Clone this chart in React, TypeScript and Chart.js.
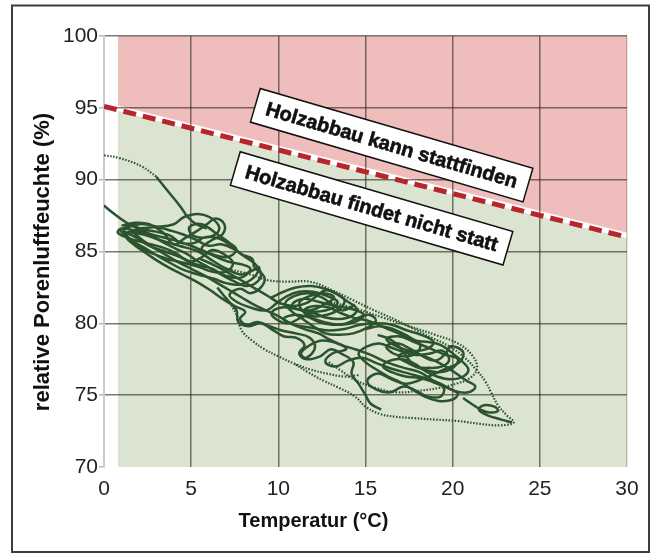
import React, { useEffect, useRef } from "react";
import { Chart, registerables } from "chart.js";
Chart.register(...registerables);

const X_MIN = 0, X_MAX = 30, X_STEP = 5;
const Y_MIN = 70, Y_MAX = 100, Y_STEP = 5;
const FILL_START_X = 0.8;
const thresholdX = [0, 30];
const thresholdY = [95.1, 86.0];
const LABEL_TEXTS = ["Holzabbau kann stattfinden", "Holzabbau findet nicht statt"];
const LABEL_X = [16.5, 15.35];
const LABEL_Y = [92.4, 88.0];
const X_TITLE = "Temperatur (°C)";
const Y_TITLE = "relative Porenluftfeuchte (%)";

type P = [number, number];

const dottedStart: P[] = [[0, 91.7], [0.9, 91.5], [2.2, 90.9], [3.0, 90.2]];
const solidDescent: P[] = [[3.0, 90.2], [3.6, 89.3], [4.4, 88.1], [4.8, 87.4], [5.3, 86.9], [5.9, 86.6]];
const solidLeadIn: P[] = [[0, 88.2], [0.5, 87.7], [1.3, 87.0], [1.9, 86.6]];

const pathA: P[] = [
  [1.9, 86.6], [3.0, 86.7], [4.0, 86.9], [4.6, 87.4], [5.5, 87.6], [6.3, 87.2], [6.6, 86.5], [6.0, 86.0],
  [5.1, 86.1], [4.9, 86.7], [5.6, 86.9], [6.5, 86.2], [7.2, 85.6], [7.6, 85.1], [7.0, 84.6], [6.0, 84.9],
  [5.0, 85.4], [4.0, 85.8], [3.0, 86.1], [2.0, 86.4], [1.0, 86.6], [0.8, 86.3], [1.5, 85.9], [2.4, 85.6],
  [3.3, 85.3], [4.1, 84.9], [4.9, 84.3], [5.6, 84.6], [6.2, 85.1], [6.9, 84.8], [7.4, 84.2], [7.0, 83.6],
  [6.2, 83.6], [5.5, 83.9], [4.6, 84.2], [3.6, 84.5], [2.7, 84.9], [2.0, 85.3], [1.4, 85.8], [1.2, 86.3],
  [2.2, 86.2], [3.2, 85.8], [4.3, 85.4], [5.4, 85.0], [6.3, 84.3], [7.0, 83.8], [7.8, 83.4], [8.4, 83.6],
  [8.9, 83.9], [8.6, 83.2], [7.8, 82.7], [7.0, 82.8], [6.3, 83.1], [5.4, 83.4], [4.6, 83.7], [3.8, 84.2],
  [3.2, 84.6], [2.4, 85.2], [1.7, 85.7], [1.3, 86.2], [1.9, 86.5], [2.9, 86.4], [3.8, 86.1], [4.4, 85.6],
  [5.2, 85.6], [5.8, 86.0], [6.6, 85.9], [7.3, 85.4], [7.9, 84.8], [8.5, 84.5], [8.6, 83.9],
];

const pathB: P[] = [
  [8.6, 83.9], [9.2, 83.2], [9.0, 82.5], [8.4, 82.1], [7.8, 82.4], [7.2, 82.0], [7.6, 81.5], [8.4, 81.1],
  [9.3, 80.9], [9.9, 81.4], [10.5, 81.9], [11.2, 82.2], [12.0, 82.2], [12.8, 81.9], [13.4, 81.5], [13.0, 81.0],
  [12.1, 80.8], [11.3, 80.9], [10.8, 81.3], [11.4, 81.7], [12.3, 81.5], [13.3, 81.2], [14.2, 81.0], [14.9, 80.6],
  [14.4, 80.1], [13.5, 79.9], [12.6, 80.1], [11.8, 80.4], [11.0, 80.6], [10.3, 80.3], [10.9, 79.9], [11.9, 79.7],
  [12.9, 79.5], [13.8, 79.6], [14.7, 79.9], [15.6, 80.0], [16.5, 79.9], [17.4, 79.5], [18.2, 79.2], [18.9, 78.7],
  [18.5, 78.2], [17.6, 78.1], [16.8, 78.4], [16.2, 78.9], [16.9, 79.1], [17.8, 78.7], [18.8, 78.2], [19.6, 77.8],
  [20.3, 77.5], [20.0, 76.9], [19.2, 76.6], [18.3, 76.8], [17.5, 77.2], [16.9, 77.7], [17.5, 78.0], [18.4, 77.7],
  [19.3, 77.2], [20.1, 76.6], [20.8, 76.0], [21.3, 75.6], [20.9, 75.2], [20.1, 75.3], [19.3, 75.8], [18.4, 76.2],
  [17.5, 76.5], [16.6, 76.8], [15.7, 77.2], [14.8, 77.6], [14.0, 77.4], [13.3, 77.0], [12.7, 77.3], [13.1, 77.9],
  [13.9, 78.2], [13.4, 78.6], [12.5, 78.8], [11.7, 78.4], [11.3, 77.9], [11.6, 77.6], [12.1, 78.3], [11.8, 79.0],
  [11.0, 79.3], [10.2, 79.5], [9.5, 79.8], [8.8, 80.1], [8.2, 79.9], [7.8, 80.3], [8.1, 80.8], [7.5, 81.2],
  [6.8, 81.7], [6.1, 82.3], [5.3, 82.9], [4.5, 83.4], [3.7, 83.9], [3.0, 84.4], [2.4, 84.9], [1.8, 85.4],
  [1.3, 86.0], [0.9, 86.5],
];

const pathC: P[] = [
  [5.5, 84.5], [6.4, 84.0], [7.3, 83.4], [8.0, 82.9], [8.7, 82.4], [9.4, 81.9], [10.1, 81.4], [10.9, 81.2],
  [11.6, 81.4], [12.2, 81.9], [12.7, 82.3], [13.3, 82.1], [13.8, 81.6], [13.5, 81.0], [12.8, 80.6], [12.0, 80.5],
  [11.5, 80.9], [12.1, 81.2], [12.9, 81.1], [13.6, 80.7], [14.3, 80.4], [15.1, 80.2], [15.9, 79.8], [16.7, 79.4],
  [17.4, 79.0], [18.1, 78.6], [18.0, 78.0], [17.3, 77.7], [16.6, 77.9], [16.2, 78.4], [16.9, 78.6], [17.6, 78.2],
  [18.3, 77.7], [19.0, 77.4], [19.6, 77.9], [19.9, 78.4], [20.6, 78.0], [20.4, 77.3], [19.7, 76.9], [18.8, 76.4],
  [18.0, 76.0], [17.3, 75.8], [16.5, 76.1], [15.7, 76.5], [15.1, 76.0], [15.6, 75.4], [16.4, 75.2], [17.2, 75.6],
  [17.9, 75.3], [18.6, 74.9], [19.3, 74.9], [19.5, 75.5], [18.9, 76.0], [18.1, 76.6], [17.2, 76.9], [16.2, 77.3],
  [15.3, 77.8], [14.4, 78.2], [13.6, 78.5], [12.9, 78.9], [12.3, 79.3], [11.5, 79.6], [10.7, 80.0], [10.0, 80.5],
  [9.3, 80.9], [8.6, 81.3], [7.9, 81.8], [7.2, 82.3], [6.5, 82.8], [5.8, 83.3], [5.0, 83.8], [4.2, 84.3],
  [3.5, 84.8], [2.8, 85.3], [2.2, 85.8], [1.7, 86.3],
];

const pathD: P[] = [
  [1.0, 86.8], [1.8, 87.0], [2.6, 86.9], [3.4, 86.3], [4.0, 85.5], [4.6, 85.9], [5.3, 86.4], [5.9, 86.9],
  [6.4, 87.3], [6.9, 86.9], [6.8, 86.2], [6.2, 85.8], [5.6, 85.2], [6.3, 84.7], [7.1, 84.3], [7.9, 84.1],
  [8.4, 83.8], [7.9, 83.2], [7.0, 83.3], [6.2, 83.8], [5.3, 84.1], [4.4, 84.6], [3.5, 85.0], [2.6, 85.4],
  [1.8, 86.0], [1.1, 86.5], [1.6, 86.8], [2.5, 86.3], [3.3, 85.7], [4.1, 85.2], [4.8, 84.8], [5.4, 84.3],
  [6.0, 83.9], [6.7, 83.4], [7.5, 82.9], [8.2, 82.6], [8.8, 82.9], [9.0, 83.5], [8.6, 84.2], [8.0, 84.7],
  [7.4, 85.2], [6.7, 85.5], [6.0, 85.4], [5.3, 85.8], [4.5, 86.2], [3.7, 86.5], [2.8, 86.8], [2.0, 86.9],
  [1.2, 86.6],
];

const pathE: P[] = [
  [9.6, 81.8], [10.3, 82.2], [11.0, 82.5], [11.9, 82.6], [12.7, 82.4], [13.4, 82.0], [14.0, 81.5], [14.5, 81.0],
  [14.2, 80.5], [13.5, 80.3], [12.7, 80.4], [12.0, 80.7], [11.3, 80.4], [10.6, 80.0], [10.0, 80.2], [9.6, 80.7],
  [10.2, 81.1], [11.0, 81.0], [11.8, 80.9], [12.6, 81.3], [13.2, 81.8], [12.6, 82.1], [11.8, 81.9], [11.2, 81.4],
  [11.6, 80.6], [12.3, 80.1], [13.1, 79.9], [13.9, 80.0], [14.6, 80.4], [15.2, 80.6], [15.6, 80.2], [15.1, 79.7],
  [14.3, 79.3], [13.5, 79.2], [12.7, 79.3], [12.0, 79.8], [11.4, 80.3], [10.8, 80.8], [10.4, 81.4], [10.9, 81.9],
  [11.7, 82.1], [12.5, 81.8], [13.1, 81.3], [13.7, 80.9], [14.4, 81.3],
];

const pathF: P[] = [
  [15.0, 79.6], [15.8, 79.8], [16.6, 79.6], [17.3, 79.2], [17.9, 78.8], [18.6, 78.7], [19.3, 78.5], [19.9, 78.0],
  [20.5, 77.4], [20.9, 76.8], [20.6, 76.3], [19.9, 76.1], [19.1, 76.3], [18.4, 76.7], [17.8, 77.2], [17.1, 77.5],
  [16.4, 77.4], [16.0, 77.0], [16.5, 76.6], [17.3, 76.3], [18.1, 76.2], [18.9, 75.9], [19.7, 75.5], [20.3, 75.1],
  [20.0, 74.7], [19.2, 74.6], [18.4, 74.9], [17.7, 75.4], [17.0, 75.9], [16.3, 76.3], [15.6, 76.8], [15.0, 77.3],
  [14.6, 77.9], [15.1, 78.4], [15.8, 78.6], [16.5, 78.3], [17.2, 78.0], [17.9, 77.8], [18.7, 77.9], [19.4, 78.1],
  [19.8, 77.5], [19.4, 77.0], [18.6, 76.9], [17.9, 77.0], [17.4, 77.6], [17.0, 78.3], [16.4, 78.9], [15.7, 79.2],
];

const pathG: P[] = [
  [6.5, 82.5], [7.1, 81.6], [7.6, 80.9], [7.7, 80.1], [8.3, 79.8], [9.0, 80.0], [9.6, 79.6], [10.3, 79.1],
  [11.0, 79.0], [11.5, 78.5], [11.2, 77.9], [11.6, 77.5], [12.4, 77.7], [13.0, 78.2], [13.6, 77.9], [14.3, 77.3],
  [14.2, 76.5], [14.6, 75.8], [15.0, 75.0], [15.3, 74.4], [15.9, 74.0],
];

const tailLoop: P[] = [
  [20.6, 74.8], [21.2, 74.3], [21.6, 74.0], [22.1, 73.8], [22.6, 73.9], [22.4, 74.2], [21.8, 74.3], [21.5, 74.0],
  [22.0, 73.6], [22.8, 73.3], [23.4, 73.1],
];

const dotUpper: P[] = [
  [6.6, 83.9], [7.4, 83.7], [8.4, 83.4], [9.4, 83.0], [10.6, 82.9], [11.8, 82.9], [13.1, 82.3], [14.3, 81.6],
  [15.5, 80.9], [16.8, 80.2], [17.8, 79.6], [18.8, 79.0], [19.8, 78.4], [20.7, 77.6], [21.4, 76.7], [21.9, 75.9],
  [22.2, 75.2], [22.6, 74.3], [23.1, 73.6], [23.5, 73.1], [22.7, 72.9], [21.6, 73.0], [20.3, 73.2], [19.0, 73.3],
  [17.8, 73.4], [16.7, 73.5], [15.8, 73.7], [15.0, 74.2], [14.4, 74.9], [13.5, 75.5], [12.6, 76.0], [11.7, 76.6],
  [10.9, 77.2],
];
const dotLower: P[] = [
  [7.0, 81.8], [7.6, 80.6], [7.9, 79.5], [8.5, 78.8], [9.2, 78.2], [10.0, 77.7], [10.9, 77.2], [11.8, 76.8],
  [12.8, 76.5], [13.8, 76.3], [14.6, 76.4],
];
const dotMid: P[] = [
  [13.0, 81.5], [14.5, 81.0], [16.0, 80.4], [17.5, 79.8], [19.0, 79.2], [20.3, 78.6], [21.1, 77.8], [21.4, 76.9],
  [21.0, 76.2], [20.2, 75.8], [19.2, 75.5], [18.0, 75.3], [16.8, 75.2], [15.6, 75.5], [14.5, 76.0], [13.6, 76.7],
  [12.9, 77.3],
];

const solidPaths = [solidLeadIn, solidDescent, pathA, pathB, pathC, pathD, pathE, pathF, pathG, tailLoop];
const dottedPaths = [dottedStart, dotUpper, dotLower, dotMid];

const LINE_GREEN = "#2b532d";
const PINK = "#f0bdbd";
const GREEN = "#dbe4d0";
const THRESH_RED = "#b8262c";
const FONT = "'Liberation Sans', Arial, sans-serif";

const toXY = (p: P[]) => p.map(([x, y]) => ({ x, y }));

function thresholdAt(v: number) {
  const t = (v - thresholdX[0]) / (thresholdX[1] - thresholdX[0]);
  return thresholdY[0] + (thresholdY[1] - thresholdY[0]) * t;
}

const zonePlugin = {
  id: "zones",
  beforeDraw(chart: any) {
    const { ctx, scales } = chart;
    const x = scales.x, y = scales.y;
    const x0 = x.getPixelForValue(FILL_START_X), x1 = x.getPixelForValue(X_MAX);
    const yTop = y.getPixelForValue(Y_MAX), yBot = y.getPixelForValue(Y_MIN);
    const l0 = y.getPixelForValue(thresholdAt(FILL_START_X));
    const l1 = y.getPixelForValue(thresholdAt(X_MAX));
    ctx.save();
    ctx.fillStyle = PINK;
    ctx.beginPath();
    ctx.moveTo(x0, yTop); ctx.lineTo(x1, yTop); ctx.lineTo(x1, l1 - 4.5); ctx.lineTo(x0, l0 - 4.5);
    ctx.closePath(); ctx.fill();
    ctx.fillStyle = GREEN;
    ctx.beginPath();
    ctx.moveTo(x0, l0 + 1); ctx.lineTo(x1, l1 + 1); ctx.lineTo(x1, yBot); ctx.lineTo(x0, yBot);
    ctx.closePath(); ctx.fill();
    ctx.restore();
  },
  afterDatasetsDraw(chart: any) {
    const { ctx, scales } = chart;
    ctx.save();
    ctx.font = `bold 20px ${FONT}`;
    const angle = (16.3 * Math.PI) / 180;
    LABEL_TEXTS.forEach((txt, i) => {
      const cx = scales.x.getPixelForValue(LABEL_X[i]);
      const cy = scales.y.getPixelForValue(LABEL_Y[i]);
      const w = 284, h = 35;
      ctx.save();
      ctx.translate(cx, cy);
      ctx.rotate(angle);
      ctx.fillStyle = "#ffffff";
      ctx.fillRect(-w / 2, -h / 2, w, h);
      ctx.strokeStyle = "#111";
      ctx.lineWidth = 1.5;
      ctx.strokeRect(-w / 2, -h / 2, w, h);
      ctx.fillStyle = "#111";
      ctx.textAlign = "center";
      ctx.textBaseline = "middle";
      ctx.fillText(txt, 0, 1);
      ctx.strokeStyle = "#111";
      ctx.lineWidth = 0.6;
      ctx.strokeText(txt, 0, 1);
      ctx.restore();
    });
    ctx.restore();
  },
  afterDraw(chart: any) {
    const { ctx } = chart;
    ctx.save();
    ctx.translate(43, 262);
    ctx.rotate(-Math.PI / 2);
    ctx.font = `bold 22px ${FONT}`;
    ctx.fillStyle = "#111";
    ctx.textAlign = "center";
    ctx.textBaseline = "middle";
    ctx.fillText(Y_TITLE, 0, 0);
    ctx.restore();
    ctx.save();
    ctx.strokeStyle = "#3c3c3c";
    ctx.lineWidth = 2;
    ctx.strokeRect(12, 5.5, 637, 546.5);
    ctx.restore();
  },
};

export default function App() {
  const ref = useRef<HTMLCanvasElement | null>(null);
  useEffect(() => {
    if (!ref.current) return;
    const datasets: any[] = [];
    solidPaths.forEach((p) =>
      datasets.push({
        data: toXY(p), showLine: true, borderColor: LINE_GREEN, borderWidth: 2.5,
        pointRadius: 0, tension: 0.4, fill: false,
      })
    );
    dottedPaths.forEach((p) =>
      datasets.push({
        data: toXY(p), showLine: true, borderColor: LINE_GREEN, borderWidth: 2.2,
        borderDash: [1.5, 1.6], pointRadius: 0, tension: 0.4, fill: false,
      })
    );
    datasets.push({
      data: thresholdX.map((x, i) => ({ x, y: thresholdY[i] })), showLine: true,
      borderColor: THRESH_RED, borderWidth: 5, borderDash: [13, 7], pointRadius: 0, fill: false,
    });
    const chart = new Chart(ref.current, {
      type: "scatter",
      data: { datasets },
      options: {
        animation: false,
        responsive: false,
        layout: { padding: { top: 36, right: 27, bottom: 0, left: 0 } },
        plugins: {
          legend: { display: false },
          tooltip: { enabled: false },
          title: {
            display: true, text: X_TITLE, position: "bottom", color: "#111",
            font: { family: FONT, size: 20, weight: "bold", lineHeight: 1.2 },
            padding: { top: 0, bottom: 27 },
          },
        },
        scales: {
          x: {
            type: "linear", min: X_MIN, max: X_MAX,
            afterFit: (s: any) => { s.height = 42; },
            ticks: {
              stepSize: X_STEP, color: "#222", padding: 10,
              font: { family: FONT, size: 21 },
            },
            grid: {
              drawTicks: false, lineWidth: 1.5,
              color: (c: any) => (c.tick.value === X_MIN ? "rgba(0,0,0,0)" : c.tick.value === X_MAX ? "rgba(60,50,40,0.25)" : "rgba(45,40,30,0.62)"),
            },
            border: { display: false },
          },
          y: {
            type: "linear", min: Y_MIN, max: Y_MAX,
            afterFit: (s: any) => { s.width = 104; },
            ticks: {
              stepSize: Y_STEP, color: "#222", padding: 1,
              font: { family: FONT, size: 21 },
            },
            grid: {
              tickLength: 5, tickColor: "#b5b5b5", lineWidth: 1.5,
              color: (c: any) => (c.tick.value === Y_MIN ? "rgba(0,0,0,0)" : "rgba(45,40,30,0.62)"),
            },
            border: { display: true, color: "#c9ccd6", width: 2 },
          },
        },
      },
      plugins: [zonePlugin],
    });
    return () => chart.destroy();
  }, []);
  return (
    <canvas
      ref={ref}
      width={654}
      height={560}
      style={{ position: "fixed", left: 0, top: 0, width: 654, height: 560 }}
    />
  );
}
